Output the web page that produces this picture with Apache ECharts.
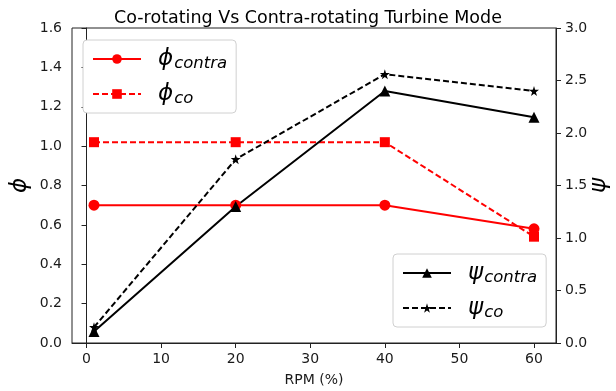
<!DOCTYPE html>
<html>
<head>
<meta charset="utf-8">
<script src="https://cdn.jsdelivr.net/npm/echarts@6/dist/echarts.min.js"></script>
<style>html,body{margin:0;padding:0;background:#fff}#c{width:616px;height:391px}</style>
</head>
<body>
<div id="c"></div>
<script>
var rpm = [1, 20, 40, 60];
var phiContra = [0.70, 0.70, 0.70, 0.58];
var phiCo = [1.02, 1.02, 1.02, 0.54];
var psiContra = [0.11, 1.30, 2.40, 2.15];
var psiCo = [0.15, 1.75, 2.56, 2.40];
var xTicks = [0, 10, 20, 30, 40, 50, 60];

var star = 'path://M50,0 L61,35 L98,35 L68,57 L79,91 L50,70 L21,91 L32,57 L2,35 L39,35 Z';
function pairs(ys){ return rpm.map(function(x,i){ return [x, ys[i]]; }); }
var F = 'DejaVu Sans';
var tickLbl = {color:'#1a1a1a', fontSize:14, fontFamily:F};
var rich = {
  m:{fontSize:23, fontStyle:'italic', fontFamily:F, color:'#000', lineHeight:28, padding:[0,0,0,12]},
  s:{fontSize:16.5, fontStyle:'italic', fontFamily:F, color:'#000', lineHeight:28, padding:[9,0,0,1]}
};
var names = {phiContra:'{m|ϕ}{s|contra}', phiCo:'{m|ϕ}{s|co}', psiContra:'{m|ψ}{s|contra}', psiCo:'{m|ψ}{s|co}'};

function legendBox(left, top, data){
  return {orient:'vertical', left:left, top:top, data:data, itemWidth:48, itemHeight:12, itemGap:9,
    padding:[6,9,6,9], backgroundColor:'#fff', borderColor:'#d0d0d0', borderWidth:1, borderRadius:4,
    formatter:function(n){return names[n];}, textStyle:{rich:rich}};
}

var chart = echarts.init(document.getElementById('c'));
chart.setOption({
  animation:false,
  backgroundColor:'#fff',
  title:{text:'Co-rotating Vs Contra-rotating Turbine Mode', left:'center', top:4,
    textStyle:{fontSize:17.5, fontWeight:'normal', color:'#000', fontFamily:F}},
  grid:{left:72, right:60, top:28, bottom:48, show:true, borderColor:'#222', borderWidth:1,
        containLabel:false, outerBoundsMode:'none'},
  legend:[ legendBox(83, 40, ['phiContra','phiCo']), legendBox(393, 254, ['psiContra','psiCo']) ],
  xAxis:{type:'value', min:-1.95, max:62.95, name:'RPM (%)', nameLocation:'middle', nameGap:30,
    nameTextStyle:{fontSize:14, color:'#1a1a1a', fontFamily:F},
    axisLine:{lineStyle:{color:'#222'}}, splitLine:{show:false},
    axisTick:{customValues:xTicks, length:5, lineStyle:{color:'#222'}},
    axisLabel:Object.assign({customValues:xTicks, margin:9}, tickLbl)},
  yAxis:[
    {type:'value', min:0, max:1.6, interval:0.2, position:'left', name:'ϕ', nameLocation:'middle', nameGap:40, nameRotate:90,
     nameMoveOverlap:false,
     nameTextStyle:{fontSize:23, fontStyle:'italic', color:'#000', fontFamily:F},
     axisLine:{show:true, lineStyle:{color:'#222'}}, splitLine:{show:false},
     axisTick:{show:true, length:5, lineStyle:{color:'#222'}},
     axisLabel:Object.assign({margin:10, formatter:function(v){return v.toFixed(1);}}, tickLbl)},
    {type:'value', min:0, max:3, interval:0.5, position:'right', name:'ψ', nameLocation:'middle', nameGap:32, nameRotate:90,
     nameMoveOverlap:false,
     nameTextStyle:{fontSize:23, fontStyle:'italic', color:'#000', fontFamily:F},
     axisLine:{show:true, lineStyle:{color:'#222'}}, splitLine:{show:false},
     axisTick:{show:true, length:5, lineStyle:{color:'#222'}},
     axisLabel:Object.assign({margin:9, formatter:function(v){return v.toFixed(1);}}, tickLbl)}
  ],
  series:[
    {name:'phiContra', type:'line', yAxisIndex:0, data:pairs(phiContra), symbol:'circle', symbolSize:11,
     color:'#ff0000', lineStyle:{width:2, color:'#ff0000'}, itemStyle:{color:'#ff0000'}},
    {name:'phiCo', type:'line', yAxisIndex:0, data:pairs(phiCo), symbol:'rect', symbolSize:10,
     color:'#ff0000', lineStyle:{width:2, type:[6,3], color:'#ff0000'}, itemStyle:{color:'#ff0000'}},
    {name:'psiContra', type:'line', yAxisIndex:1, data:pairs(psiContra), symbol:'triangle', symbolSize:11,
     color:'#000', lineStyle:{width:2, color:'#000'}, itemStyle:{color:'#000'}},
    {name:'psiCo', type:'line', yAxisIndex:1, data:pairs(psiCo), symbol:star, symbolSize:10,
     color:'#000', lineStyle:{width:2, type:[6,3], color:'#000'}, itemStyle:{color:'#000'}}
  ]
});
</script>
</body>
</html>
